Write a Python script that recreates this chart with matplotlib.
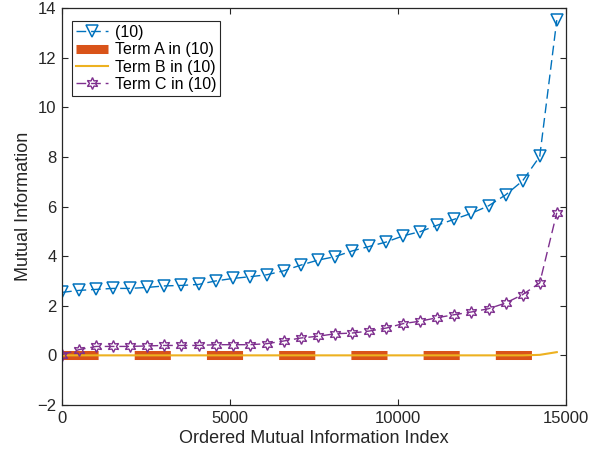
import matplotlib
matplotlib.use("Agg")
import matplotlib.pyplot as plt

plt.rcParams['font.family'] = ['Liberation Sans', 'DejaVu Sans']
plt.rcParams['lines.scale_dashes'] = False

# ordered index of the sampled points
idx = [0, 508, 1016, 1524, 2032, 2540, 3048, 3556, 4064, 4572,
       5080, 5588, 6096, 6604, 7112, 7620, 8128, 8636, 9144, 9652,
       10160, 10668, 11176, 11684, 12192, 12700, 13208, 13716, 14224, 14732]

# (10)
mi_total = [2.54, 2.62, 2.66, 2.70, 2.70, 2.74, 2.80, 2.82, 2.86, 3.00,
            3.10, 3.17, 3.25, 3.41, 3.64, 3.84, 3.98, 4.21, 4.39, 4.57,
            4.82, 4.99, 5.25, 5.49, 5.73, 6.03, 6.47, 7.04, 8.02, 13.52]
# Term A
term_a = [0.0] * 30
# Term B
term_b = [0.0] * 28 + [0.02, 0.13]
# Term C
term_c = [0.03, 0.23, 0.36, 0.36, 0.36, 0.38, 0.40, 0.40, 0.40, 0.43,
          0.43, 0.43, 0.47, 0.58, 0.70, 0.77, 0.87, 0.90, 0.98, 1.10,
          1.28, 1.38, 1.52, 1.64, 1.75, 1.88, 2.11, 2.45, 2.92, 5.75]

labels = ["(10)", "Term A in (10)", "Term B in (10)", "Term C in (10)"]

ink = "#262626"

fig = plt.figure(figsize=(6.11, 4.55), dpi=100)
ax = fig.add_axes([0.1015, 0.11, 0.8245, 0.872])

ax.plot(idx, mi_total, color="#0072BD", linestyle="--", dashes=(7, 3.5),
        lw=1.0, marker="v", ms=8.5, mfc="none", mew=1.1, label=labels[0])
ax.plot(idx, term_a, color="#D95319", linestyle="--", dashes=(26, 26),
        lw=6.5, label=labels[1])
ax.plot(idx, term_b, color="#EDB120", lw=1.5, label=labels[2])
ax.plot(idx, term_c, color="#7E2F8E", linestyle="--", dashes=(7, 3.5),
        lw=1.0, marker=(6, 1, 0), ms=8.5, mfc="none", mew=1.0, label=labels[3])

ax.set_xlim(0, 15000)
ax.set_ylim(-2, 14)
ax.set_xticks([0, 5000, 10000, 15000])
ax.set_yticks(range(-2, 15, 2))
ax.tick_params(direction="in", top=True, right=True, length=4, width=0.8,
               labelsize=12, colors=ink, pad=4)
for s in ax.spines.values():
    s.set_color(ink)
    s.set_linewidth(0.9)

ax.set_xlabel("Ordered Mutual Information Index", fontsize=13, color=ink, labelpad=3)
ax.set_ylabel("Mutual Information", fontsize=13, color=ink, labelpad=4)

leg = ax.legend(loc="upper left", bbox_to_anchor=(0.019, 0.968), fontsize=11.5,
                fancybox=False, edgecolor=ink, framealpha=1, handlelength=2.0,
                labelspacing=0.15, borderpad=0.25, handletextpad=0.45,
                borderaxespad=0.0)
leg.get_frame().set_linewidth(0.8)

fig.savefig("out.png", dpi=100)
